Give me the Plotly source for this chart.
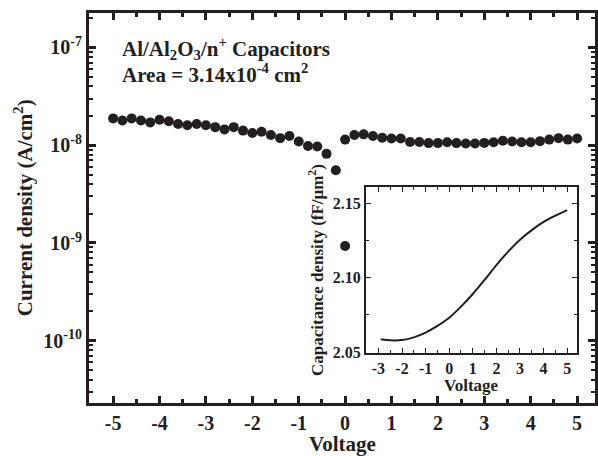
import plotly.graph_objects as go

# Main J-V data (negative sweep -5..0, positive sweep 0..5, step 0.2 V)
v_neg = [-5.0, -4.8, -4.6, -4.4, -4.2, -4.0, -3.8, -3.6, -3.4, -3.2, -3.0, -2.8, -2.6,
         -2.4, -2.2, -2.0, -1.8, -1.6, -1.4, -1.2, -1.0, -0.8, -0.6, -0.4, -0.2, 0.0]
j_neg = [1.88e-8, 1.79e-8, 1.88e-8, 1.79e-8, 1.71e-8, 1.82e-8, 1.76e-8, 1.65e-8, 1.60e-8,
         1.65e-8, 1.60e-8, 1.53e-8, 1.45e-8, 1.53e-8, 1.41e-8, 1.33e-8, 1.37e-8, 1.27e-8,
         1.18e-8, 1.24e-8, 1.09e-8, 9.8e-9, 9.7e-9, 8.15e-9, 5.55e-9, 9.3e-10]
v_pos = [0.0, 0.2, 0.4, 0.6, 0.8, 1.0, 1.2, 1.4, 1.6, 1.8, 2.0, 2.2, 2.4, 2.6, 2.8, 3.0,
         3.2, 3.4, 3.6, 3.8, 4.0, 4.2, 4.4, 4.6, 4.8, 5.0]
j_pos = [1.14e-8, 1.27e-8, 1.29e-8, 1.24e-8, 1.19e-8, 1.17e-8, 1.17e-8, 1.08e-8, 1.08e-8,
         1.05e-8, 1.05e-8, 1.07e-8, 1.05e-8, 1.04e-8, 1.04e-8, 1.055e-8, 1.07e-8, 1.11e-8,
         1.09e-8, 1.07e-8, 1.07e-8, 1.10e-8, 1.14e-8, 1.18e-8, 1.14e-8, 1.17e-8]

# Inset C-V data
v_cv = [-2.9, -2.5, -2.0, -1.5, -1.0, -0.5, 0.0, 0.5, 1.0, 1.5, 2.0, 2.5, 3.0, 3.5, 4.0, 4.5, 5.0]
c_cv = [2.0585, 2.0578, 2.0580, 2.0598, 2.0630, 2.0675, 2.0730, 2.0805, 2.0890, 2.0985,
        2.1085, 2.1175, 2.1255, 2.1320, 2.1375, 2.1418, 2.1455]

y_tick_vals = [1e-10, 1e-9, 1e-8, 1e-7]
y_tick_text = ["<b>10<sup>-10</sup></b>", "<b>10<sup>-9</sup></b>",
               "<b>10<sup>-8</sup></b>", "<b>10<sup>-7</sup></b>"]
x_tick_vals = [-5, -4, -3, -2, -1, 0, 1, 2, 3, 4, 5]
inset_x_ticks = [-3, -2, -1, 0, 1, 2, 3, 4, 5]
inset_y_ticks = [2.05, 2.10, 2.15]
inset_y_text = ["<b>2.05</b>", "<b>2.10</b>", "<b>2.15</b>"]

FONT = "Liberation Serif"
INK = "#231f20"
minor_log = [m * 10.0 ** e for e in range(-11, -6) for m in range(2, 10)]

fig = go.Figure()
fig.add_trace(go.Scatter(x=v_neg + v_pos, y=j_neg + j_pos, mode="markers",
                         marker=dict(color=INK, size=10), showlegend=False,
                         xaxis="x", yaxis="y"))
fig.add_trace(go.Scatter(x=v_cv, y=c_cv, mode="lines", line=dict(color=INK, width=2,
                         shape="spline"), showlegend=False, xaxis="x2", yaxis="y2"))

axis_common = dict(showgrid=False, zeroline=False, showline=True, linecolor=INK,
                   mirror="ticks", ticks="inside", tickcolor=INK)

fig.update_layout(
    width=598, height=456,
    margin=dict(l=89, r=0, t=13, b=53),
    paper_bgcolor="white", plot_bgcolor="white",
    font=dict(family=FONT, color=INK),
    xaxis=dict(**axis_common, range=[-5.52, 5.386], domain=[0, 1],
               tickvals=x_tick_vals, ticktext=["<b>%d</b>" % v for v in x_tick_vals],
               linewidth=3, tickwidth=2.5, ticklen=7,
               tickfont=dict(size=20, family=FONT, color=INK),
               minor=dict(ticks="inside", dtick=0.5, ticklen=4, tickwidth=2.5,
                          tickcolor=INK, showgrid=False)),
    yaxis=dict(**axis_common, type="log", range=[-10.637, -6.648], domain=[0, 1],
               tickvals=y_tick_vals, ticktext=y_tick_text,
               linewidth=3, tickwidth=2.5, ticklen=7,
               tickfont=dict(size=20, family=FONT, color=INK),
               minor=dict(ticks="inside", tickmode="array", tickvals=minor_log, ticklen=4,
                          tickwidth=2, tickcolor=INK, showgrid=False)),
    xaxis2=dict(**axis_common, anchor="y2", domain=[0.547, 0.9646], range=[-3.535, 5.42],
                tickvals=inset_x_ticks, ticktext=["<b>%d</b>" % v for v in inset_x_ticks],
                linewidth=1.5, tickwidth=1.2, ticklen=5,
                tickfont=dict(size=16, family=FONT, color=INK),
                minor=dict(ticks="inside", dtick=0.5, ticklen=3, tickwidth=1,
                           tickcolor=INK, showgrid=False)),
    yaxis2=dict(**axis_common, anchor="x2", domain=[0.129, 0.553], range=[2.0495, 2.1608],
                tickvals=inset_y_ticks, ticktext=inset_y_text,
                linewidth=1.5, tickwidth=1.2, ticklen=5,
                tickfont=dict(size=16, family=FONT, color=INK),
                minor=dict(ticks="inside", dtick=0.025, tick0=2.05, ticklen=3, tickwidth=1,
                           tickcolor=INK, showgrid=False),
                title=dict(text="<b>Capacitance density (fF/\u03bcm<sup>2</sup>)</b>",
                           font=dict(size=17, family=FONT, color=INK), standoff=5)),
    annotations=[
        dict(text="<b>Voltage</b>", xref="paper", yref="paper", x=0.5, y=-0.105,
             xanchor="center", yanchor="middle", showarrow=False,
             font=dict(size=21, family=FONT, color=INK)),
        dict(text="<b>Current density (A/cm<sup>2</sup>)</b>", xref="paper", yref="paper",
             x=-0.13, y=0.5, xanchor="center", yanchor="middle", textangle=-90,
             showarrow=False, font=dict(size=21, family=FONT, color=INK)),
        dict(text="<b>Voltage</b>", xref="x2 domain", yref="paper", x=0.5, y=0.046,
             xanchor="center", yanchor="middle", showarrow=False,
             font=dict(size=17, family=FONT, color=INK)),
        dict(text="<b>Al/Al<sub>2</sub>O<sub>3</sub>/n<sup>+</sup> Capacitors</b>",
             xref="paper", yref="paper", x=0.061, y=0.910, xanchor="left", yanchor="middle",
             showarrow=False, font=dict(size=21, family=FONT, color=INK)),
        dict(text="<b>Area = 3.14x10<sup>-4</sup> cm<sup>2</sup></b>",
             xref="paper", yref="paper", x=0.061, y=0.846, xanchor="left", yanchor="middle",
             showarrow=False, font=dict(size=21, family=FONT, color=INK)),
    ],
    shapes=[dict(type="rect", xref="x2 domain", yref="y2 domain", x0=0, x1=1, y0=0, y1=1,
                 fillcolor="white", line=dict(width=0), layer="below")],
)

fig.write_html("out.html", config={"displayModeBar": False},
               post_script="document.body.style.margin='0';")
